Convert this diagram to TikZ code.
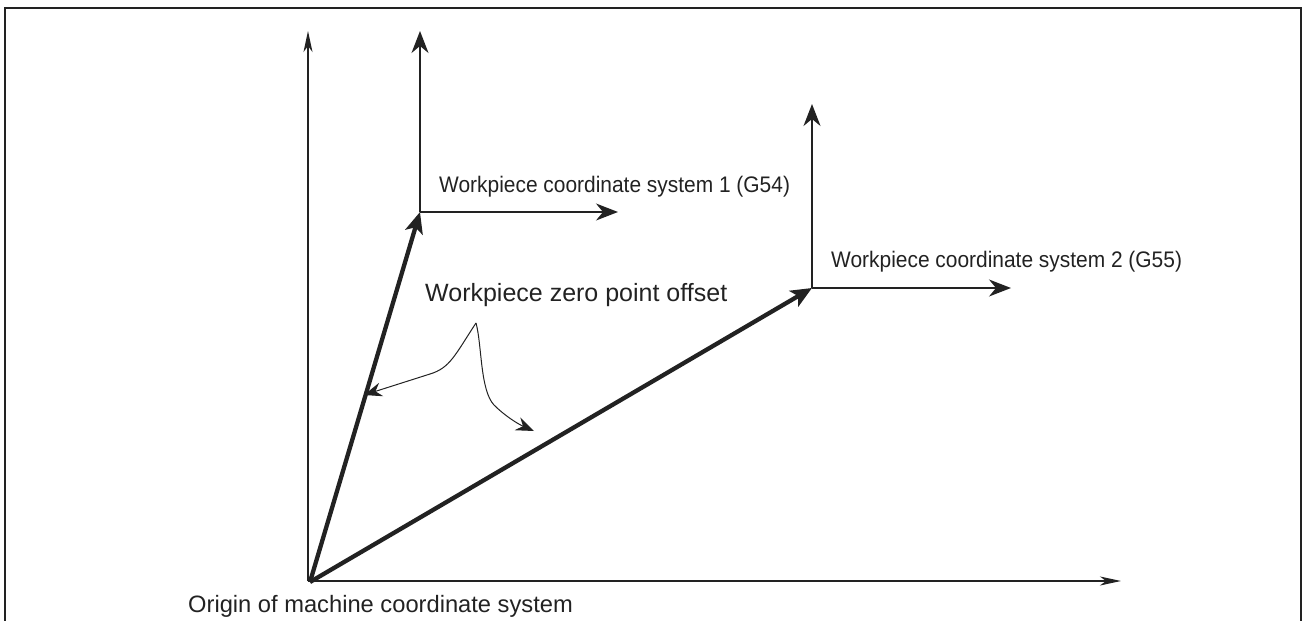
\documentclass[tikz,border=0pt]{standalone}
\usepackage{fontspec}
\setmainfont{Liberation Sans}
\usetikzlibrary{arrows.meta}
\definecolor{ink}{HTML}{222222}
\begin{document}
\begin{tikzpicture}[x=1pt,y=-1pt,
  thinax/.style={line width=1.3pt,draw=ink,-{Stealth[length=21pt,width=9pt,inset=6pt]}},
  bigax/.style={line width=1.4pt,draw=ink,-{Stealth[length=22pt,width=17pt,inset=7pt]}},
  vec/.style={line width=4.3pt,draw=ink,-{Stealth[length=21pt,width=18pt,inset=5pt]}},
  leader/.style={line width=1pt,draw=ink,-{Stealth[length=18pt,width=14pt,inset=6pt]}},
  lbl/.style={anchor=base west,inner sep=0pt,text=ink}]
\useasboundingbox (0,0) rectangle (1302,621);
\draw[line width=2pt,ink] (5,621) -- (5,8) -- (1301,8) -- (1301,621);
% machine coordinate system
\coordinate (M) at (308,581);
\coordinate (MY) at (308,31);
\coordinate (MX) at (1121,581);
\coordinate (O) at (310,582);
\draw[thinax] (M) -- (MY);
\draw[thinax] (M) -- (MX);
% workpiece 1
\coordinate (W1) at (420,212);
\coordinate (W1Y) at (420,31);
\coordinate (W1X) at (618,212);
\draw[bigax] (W1) -- (W1Y);
\draw[bigax] (W1) -- (W1X);
% workpiece 2
\coordinate (W2) at (812,288);
\coordinate (W2Y) at (812,104);
\coordinate (W2X) at (1011,288);
\draw[bigax] (W2) -- (W2Y);
\draw[bigax] (W2) -- (W2X);
% offset vectors
\draw[vec] (O) -- (W1);
\draw[vec] (O) -- (W2);
% leader
\coordinate (A) at (476,323);
\coordinate (L1) at (364,395);
\coordinate (L2) at (534,431);
\draw[leader] (A) .. controls (455,355) and (450,368) .. (430,374) -- (L1);
\draw[leader] (A) .. controls (482,345) and (480,390) .. (494,405) .. controls (505,416) and (518,424) .. (L2);
% labels
\node[lbl,font=\fontsize{22.5}{27}\selectfont,xscale=0.93] (t1) at (439,192) {Workpiece coordinate system 1 (G54)};
\node[lbl,font=\fontsize{22.5}{27}\selectfont,xscale=0.93] (t2) at (831,267) {Workpiece coordinate system 2 (G55)};
\node[lbl,font=\fontsize{25}{30}\selectfont] (t3) at (425,301) {Workpiece zero point offset};
\node[lbl,font=\fontsize{23.7}{28}\selectfont] (t4) at (188,612) {Origin of machine coordinate system};
\end{tikzpicture}
\end{document}
